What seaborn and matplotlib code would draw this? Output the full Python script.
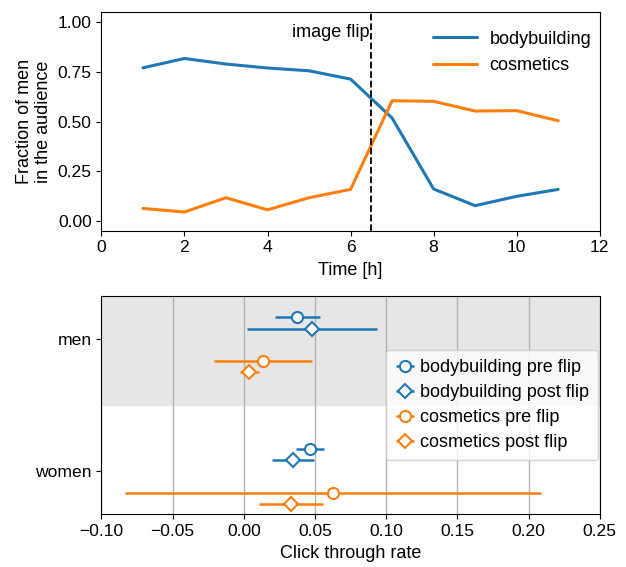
import numpy as np
import pandas as pd
import matplotlib
matplotlib.use("Agg")
import matplotlib.pyplot as plt
import seaborn as sns

# === Data ===
hours = [1, 2, 3, 4, 5, 6, 7, 8, 9, 10, 11]
frac_bodybuilding = [0.771, 0.818, 0.790, 0.770, 0.756, 0.714, 0.518, 0.160, 0.076, 0.123, 0.158]
frac_cosmetics = [0.062, 0.044, 0.116, 0.055, 0.116, 0.158, 0.605, 0.602, 0.553, 0.555, 0.504]
flip_time = 6.5

groups = ["women", "men"]
series = ["bodybuilding pre flip", "bodybuilding post flip", "cosmetics pre flip", "cosmetics post flip"]
# click through rate per series, for [women, men]
ctr_mean = {
    "bodybuilding pre flip": [0.0466, 0.0377],
    "bodybuilding post flip": [0.0346, 0.0480],
    "cosmetics pre flip": [0.0627, 0.0133],
    "cosmetics post flip": [0.0330, 0.0040],
}
ctr_err = {
    "bodybuilding pre flip": [0.0100, 0.0158],
    "bodybuilding post flip": [0.0150, 0.0455],
    "cosmetics pre flip": [0.1462, 0.0345],
    "cosmetics post flip": [0.0224, 0.0065],
}
offsets = [0.168, 0.082, -0.165, -0.25]

# === Style ===
sns.set_style("ticks")
plt.rcParams["font.family"] = ["Liberation Sans", "DejaVu Sans"]
plt.rcParams["font.size"] = 13
plt.rcParams["axes.labelsize"] = 13
plt.rcParams["xtick.labelsize"] = 12.6
plt.rcParams["ytick.labelsize"] = 12.6
plt.rcParams["legend.fontsize"] = 13
plt.rcParams["axes.edgecolor"] = "black"
plt.rcParams["xtick.color"] = "black"
plt.rcParams["ytick.color"] = "black"
plt.rcParams["text.color"] = "black"
plt.rcParams["axes.labelcolor"] = "black"

blue, orange = "#1f77b4", "#ff7f0e"
colors = [blue, blue, orange, orange]
markers = ["o", "D", "o", "D"]

fig, (ax1, ax2) = plt.subplots(2, 1, figsize=(6.26, 5.67), dpi=100)
fig.subplots_adjust(left=0.162, right=0.958, top=0.978, bottom=0.093, hspace=0.3)

# === Top: audience fraction over time ===
df = pd.DataFrame({
    "Time [h]": hours * 2,
    "frac": frac_bodybuilding + frac_cosmetics,
    "topic": ["bodybuilding"] * len(hours) + ["cosmetics"] * len(hours),
})
sns.lineplot(data=df, x="Time [h]", y="frac", hue="topic", palette=[blue, orange],
             lw=2.2, ax=ax1)
ax1.axvline(flip_time, color="k", ls="--", lw=1.3)
ax1.text(flip_time - 0.05, 0.95, "image flip", ha="right", va="center")
ax1.set_xlim(0, 12)
ax1.set_ylim(-0.05, 1.05)
ax1.set_yticks([0, 0.25, 0.5, 0.75, 1.0])
ax1.set_xlabel("Time [h]", labelpad=5)
ax1.set_ylabel("Fraction of men\nin the audience")
ax1.legend(frameon=False, loc="upper right", bbox_to_anchor=(1.008, 0.975), title=None,
           handlelength=2.4, handletextpad=0.7, borderaxespad=0.3, labelspacing=0.55)
for s in ax1.spines.values():
    s.set_visible(True)

# === Bottom: click through rates ===
ax2.axhspan(0.5, 1.5, color="0.9", zorder=0)
ax2.grid(axis="x", color="0.7", lw=1)
ax2.set_axisbelow(True)
ypos = np.arange(len(groups))
for name, c, m, off in zip(series, colors, markers, offsets):
    ax2.errorbar(ctr_mean[name], ypos + off, xerr=ctr_err[name], fmt=m, color=c,
                 mfc="white", mec=c, ms=8 if m == "o" else 7.5, mew=1.5, lw=1.8,
                 label=name, zorder=3)
ax2.set_xlim(-0.10, 0.25)
ax2.set_ylim(-0.33, 1.33)
ax2.set_yticks(ypos)
ax2.set_yticklabels(groups)
ax2.set_xlabel("Click through rate")
ax2.legend(loc="center right", handlelength=1.1, handletextpad=0.25, borderpad=0.5,
           labelspacing=0.45, borderaxespad=0.1)
for s in ax2.spines.values():
    s.set_visible(True)

fig.savefig("out.png", dpi=100)
